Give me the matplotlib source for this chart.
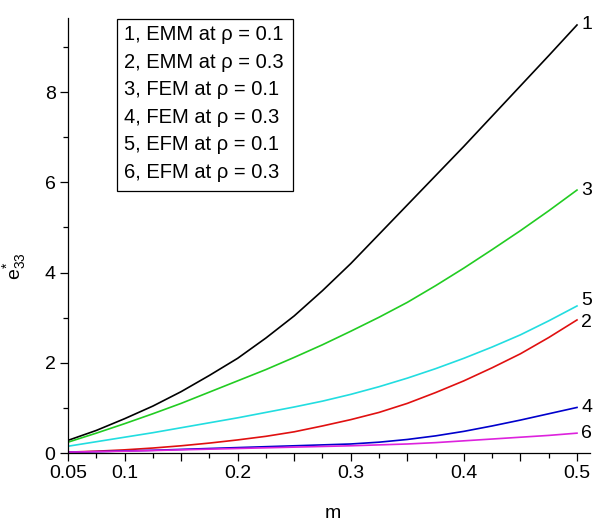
import matplotlib
matplotlib.use("Agg")
import matplotlib.pyplot as plt
from matplotlib.patches import Rectangle
from matplotlib.ticker import MultipleLocator, FixedLocator, FixedFormatter

plt.rcParams['font.family'] = ['Liberation Sans', 'DejaVu Sans']

m = [0.05, 0.075, 0.10, 0.125, 0.15, 0.175, 0.20, 0.225, 0.25, 0.275,
     0.30, 0.325, 0.35, 0.375, 0.40, 0.425, 0.45, 0.475, 0.50]

# curve values
emm_01 = [0.28, 0.50, 0.76, 1.04, 1.36, 1.72, 2.10, 2.55, 3.04, 3.60,
          4.20, 4.85, 5.50, 6.15, 6.80, 7.47, 8.14, 8.81, 9.49]
emm_03 = [0.02, 0.04, 0.07, 0.11, 0.16, 0.22, 0.29, 0.37, 0.47, 0.60,
          0.74, 0.90, 1.10, 1.34, 1.60, 1.89, 2.20, 2.56, 2.95]
fem_01 = [0.24, 0.44, 0.65, 0.87, 1.10, 1.35, 1.60, 1.85, 2.12, 2.40,
          2.70, 3.01, 3.34, 3.71, 4.10, 4.51, 4.93, 5.37, 5.83]
fem_03 = [0.02, 0.03, 0.045, 0.06, 0.08, 0.10, 0.12, 0.14, 0.16, 0.18,
          0.20, 0.24, 0.30, 0.38, 0.48, 0.60, 0.73, 0.87, 1.01]
efm_01 = [0.15, 0.25, 0.35, 0.45, 0.56, 0.67, 0.78, 0.90, 1.02, 1.15,
          1.30, 1.47, 1.66, 1.87, 2.10, 2.35, 2.62, 2.93, 3.26]
efm_03 = [0.02, 0.03, 0.04, 0.055, 0.07, 0.085, 0.10, 0.115, 0.13, 0.145,
          0.16, 0.18, 0.20, 0.23, 0.27, 0.31, 0.35, 0.39, 0.44]

series = [emm_01, emm_03, fem_01, fem_03, efm_01, efm_03]
colors = ['#000000', '#e01010', '#22cc22', '#0000cc', '#22dde0', '#dd22dd']
curve_ids = ['1', '2', '3', '4', '5', '6']
id_nudge = [0.0, -0.06, 0.0, 0.0, 0.12, 0.0]

legend_lines = ['1, EMM at \u03c1 = 0.1', '2, EMM at \u03c1 = 0.3',
                '3, FEM at \u03c1 = 0.1', '4, FEM at \u03c1 = 0.3',
                '5, EFM at \u03c1 = 0.1', '6, EFM at \u03c1 = 0.3']

W, H = 593, 529
fig = plt.figure(figsize=(W / 100, H / 100), dpi=100)
ax = fig.add_axes([68 / W, (H - 453) / H, (590 - 68) / W, (453 - 18) / H])

for vals, c in zip(series, colors):
    ax.plot(m, vals, color=c, lw=1.2)

for vals, c, lab, dy in zip(series, colors, curve_ids, id_nudge):
    ax.annotate(lab, (m[-1], vals[-1] + dy), xytext=(3, 0),
                textcoords='offset points', va='center', ha='left',
                fontsize=14, annotation_clip=False)

ax.set_xlim(0.05, 0.5115)
ax.set_ylim(0, 9.645)

for s in ['top', 'right']:
    ax.spines[s].set_visible(False)
for s in ['left', 'bottom']:
    ax.spines[s].set_linewidth(0.9)

xt = [0.05, 0.10, 0.15, 0.20, 0.25, 0.30, 0.35, 0.40, 0.45, 0.50]
xl = ['0.05', '0.1', '', '0.2', '', '0.3', '', '0.4', '', '0.5']
ax.xaxis.set_major_locator(FixedLocator(xt))
ax.xaxis.set_major_formatter(FixedFormatter(xl))
ax.xaxis.set_minor_locator(MultipleLocator(0.025))
ax.yaxis.set_major_locator(MultipleLocator(2))
ax.yaxis.set_minor_locator(MultipleLocator(1))
ax.tick_params(which='major', direction='out', length=6, width=0.9,
               labelsize=14, pad=3)
ax.tick_params(which='minor', direction='out', length=3.5, width=0.9)

ax.set_xlabel('m', fontsize=14)
ax.xaxis.label.set_va('center')
ax.xaxis.set_label_coords(0.508, -0.14)
ax.set_ylabel(r'$\mathregular{e_{33}^{*}}$', fontsize=14)
ax.yaxis.set_label_coords(-0.077, 0.43)

# legend box drawn as text in a frame
def fx(px):
    return px / W


def fy(py):
    return 1 - py / H


fig.patches.append(Rectangle((fx(117), fy(191)), fx(293) - fx(117),
                             fy(19) - fy(191), transform=fig.transFigure,
                             fill=False, lw=0.9, ec='black'))
for i, line in enumerate(legend_lines):
    fig.text(fx(124), fy(35 + i * 27.4), line, fontsize=14.5,
             va='center', ha='left')

fig.savefig('out.png', dpi=100)
